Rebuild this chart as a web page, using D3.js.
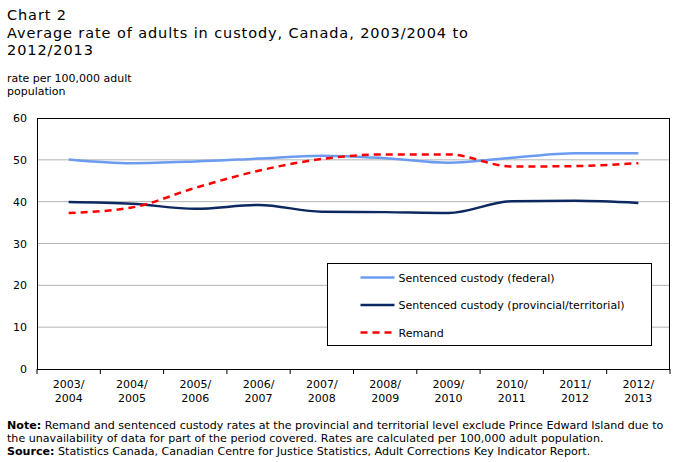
<!DOCTYPE html>
<html>
<head>
<meta charset="utf-8">
<script src="https://cdn.jsdelivr.net/npm/d3@7"></script>
<style>
  body { margin: 0; background: #fff; }
  svg { display: block; font-family: Verdana, "DejaVu Sans", sans-serif; }
</style>
</head>
<body>
<svg id="chart" width="673" height="462"></svg>
<script>
// data
const years = ["2003/2004", "2004/2005", "2005/2006", "2006/2007", "2007/2008",
               "2008/2009", "2009/2010", "2010/2011", "2011/2012", "2012/2013"];
const federal    = [50.1, 49.2, 49.6, 50.3, 51.0, 50.4, 49.3, 50.5, 51.6, 51.6];
const provincial = [39.9, 39.5, 38.3, 39.2, 37.6, 37.5, 37.3, 40.1, 40.2, 39.7];
const remand     = [37.3, 38.6, 43.3, 47.4, 50.2, 51.3, 51.3, 48.4, 48.5, 49.2];
const yTicks = [0, 10, 20, 30, 40, 50, 60];

const seriesList = [
  { name: "Sentenced custody (federal)", values: federal, color: "#6b9cf0", dash: null },
  { name: "Sentenced custody (provincial/territorial)", values: provincial, color: "#0d2860", dash: null },
  { name: "Remand", values: remand, color: "#ff0000", dash: "7,5" }
];

var svg = d3.select("#chart"),
    margin = { top: 118, right: 3, bottom: 93, left: 37 },
    width = +svg.attr("width") - margin.left - margin.right,
    height = +svg.attr("height") - margin.top - margin.bottom;

// titles
var title = svg.append("g").attr("font-size", "14.5px").attr("letter-spacing", "0.9px").attr("fill", "#000");
title.append("text").attr("x", 7).attr("y", 20).text("Chart 2");
title.append("text").attr("x", 7).attr("y", 38).text("Average rate of adults in custody, Canada, 2003/2004 to");
title.append("text").attr("x", 7).attr("y", 55).text("2012/2013");

svg.append("text").attr("x", 7).attr("y", 82).attr("font-size", "11px").text("rate per 100,000 adult");
svg.append("text").attr("x", 7).attr("y", 95).attr("font-size", "11px").text("population");

var x = d3.scaleBand().domain(years).range([0, width]),
    y = d3.scaleLinear().domain([0, 60]).range([height, 0]);

var g = svg.append("g")
  .attr("transform", "translate(" + margin.left + "," + margin.top + ")");

// gridlines
g.append("g")
  .selectAll("line")
  .data(yTicks.filter(d => d > 0 && d < 60))
  .enter().append("line")
  .attr("x1", 0).attr("x2", width)
  .attr("y1", d => y(d)).attr("y2", d => y(d))
  .attr("stroke", "#b3b3b3").attr("stroke-width", 1);

// y axis labels
g.append("g")
  .attr("class", "axis axis--y")
  .call(d3.axisLeft(y).tickValues(yTicks).tickSize(0).tickPadding(10))
  .call(a => a.select(".domain").remove())
  .selectAll("text").attr("font-size", "11px").attr("fill", "#000")
  .attr("font-family", "Verdana, 'DejaVu Sans', sans-serif");

// x axis with ticks at band edges
var xAxis = g.append("g")
  .attr("transform", "translate(0," + height + ")");
xAxis.selectAll("line.tick")
  .data(years.concat(["end"]))
  .enter().append("line")
  .attr("x1", (d, i) => i * x.bandwidth()).attr("x2", (d, i) => i * x.bandwidth())
  .attr("y1", 0).attr("y2", 5)
  .attr("stroke", "#000");
var labels = xAxis.selectAll("text")
  .data(years)
  .enter().append("text")
  .attr("text-anchor", "middle")
  .attr("font-size", "11px")
  .attr("transform", d => "translate(" + (x(d) + x.bandwidth() / 2) + ",0)");
labels.append("tspan").attr("x", 0).attr("y", 19).text(d => d.split("/")[0] + "/");
labels.append("tspan").attr("x", 0).attr("y", 33).text(d => d.split("/")[1]);

// frame
g.append("rect")
  .attr("x", 0.5).attr("y", 0.5)
  .attr("width", width - 1).attr("height", height)
  .attr("fill", "none").attr("stroke", "#000").attr("stroke-width", 1);

// lines
var line = d3.line()
  .x((d, i) => x(years[i]) + x.bandwidth() / 2)
  .y(d => y(d))
  .curve(d3.curveMonotoneX);

seriesList.forEach(function(s) {
  g.append("path")
    .datum(s.values)
    .attr("fill", "none")
    .attr("stroke", s.color)
    .attr("stroke-width", 2.5)
    .attr("stroke-dasharray", s.dash)
    .attr("d", line);
});

// legend
var legend = svg.append("g").attr("transform", "translate(327.5,263.5)");
legend.append("rect")
  .attr("width", 324).attr("height", 82)
  .attr("fill", "#fff").attr("stroke", "#000");
seriesList.forEach(function(s, i) {
  var row = legend.append("g").attr("transform", "translate(0," + (14 + i * 27.5) + ")");
  row.append("line")
    .attr("x1", 33).attr("x2", 67).attr("y1", 0).attr("y2", 0)
    .attr("stroke", s.color).attr("stroke-width", 2.5)
    .attr("stroke-dasharray", s.dash);
  row.append("text").attr("x", 71).attr("y", 4).attr("font-size", "11px").text(s.name);
});

// notes
var notes = svg.append("g").attr("font-size", "11.1px").attr("font-family", "'DejaVu Sans', sans-serif");
var n1 = notes.append("text").attr("x", 7).attr("y", 429);
n1.append("tspan").attr("font-weight", "bold").text("Note:");
n1.append("tspan").text(" Remand and sentenced custody rates at the provincial and territorial level exclude Prince Edward Island due to");
notes.append("text").attr("x", 7).attr("y", 442)
  .text("the unavailability of data for part of the period covered. Rates are calculated per 100,000 adult population.");
var n3 = notes.append("text").attr("x", 7).attr("y", 455);
n3.append("tspan").attr("font-weight", "bold").text("Source:");
n3.append("tspan").text(" Statistics Canada, Canadian Centre for Justice Statistics, Adult Corrections Key Indicator Report.");
</script>
</body>
</html>
